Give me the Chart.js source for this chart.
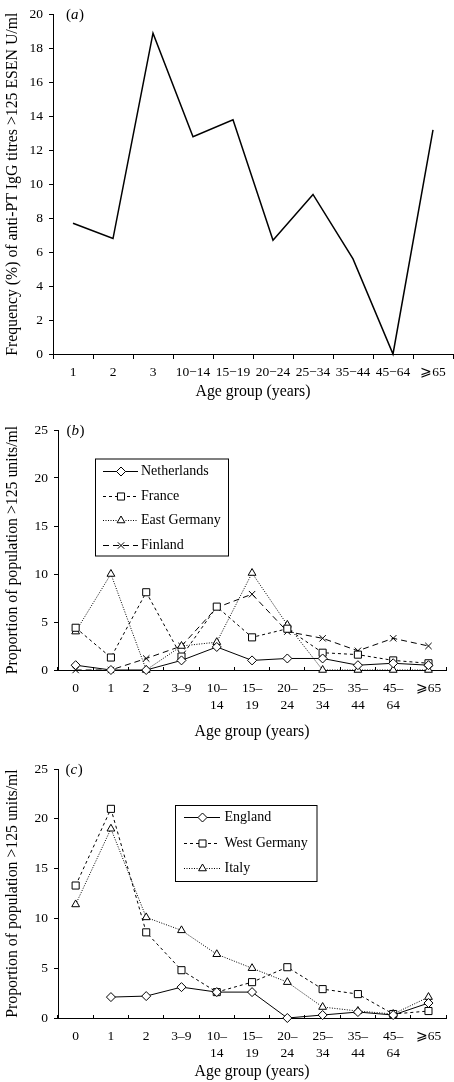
<!DOCTYPE html>
<html>
<head>
<meta charset="utf-8">
<script src="https://cdn.jsdelivr.net/npm/chart.js@4.4.1/dist/chart.umd.min.js"></script>
<style>
  html, body { margin: 0; padding: 0; background: #fff; }
  body { width: 454px; height: 1082px; position: relative; overflow: hidden; }
  canvas { position: absolute; left: 0; }
</style>
</head>
<body>
<canvas id="chartA" width="454" height="405" style="top:0px"></canvas>
<canvas id="chartB" width="454" height="335" style="top:410px"></canvas>
<canvas id="chartC" width="454" height="332" style="top:750px"></canvas>
<script>
// panel (a)
const agesA = ['1', '2', '3', '10\u221214', '15\u221219', '20\u221224', '25\u221234', '35\u221244', '45\u221264', '\u2A7E65'];
const freqA = [7.7, 6.8, 18.9, 12.8, 13.8, 6.7, 9.4, 5.6, 0, 13.2];
const yTicksA = [0, 2, 4, 6, 8, 10, 12, 14, 16, 18, 20];

// panels (b) and (c)
const agesBC = ['0', '1', '2', '3\u20139', ['10\u2013', '14'], ['15\u2013', '19'], ['20\u2013', '24'],
  ['25\u2013', '34'], ['35\u2013', '44'], ['45\u2013', '64'], '\u2A7E65'];
const yTicksBC = [0, 5, 10, 15, 20, 25];

const netherlands = [0.5, 0, 0, 1.0, 2.4, 1.0, 1.2, 1.2, 0.5, 0.7, 0.5];
const france      = [4.4, 1.3, 8.1, 1.4, 6.6, 3.4, 4.3, 1.8, 1.6, 1.0, 0.7];
const eastGermany = [4.0, 10.0, 0, 2.5, 2.9, 10.1, 4.7, 0, 0, 0, 0];
const finland     = [0, 0, 1.2, 2.5, 6.5, 7.9, 4.0, 3.3, 2.0, 3.3, 2.5];

const england     = [null, 2.1, 2.2, 3.1, 2.6, 2.6, 0, 0.3, 0.6, 0.3, 1.5];
const westGermany = [13.3, 21.0, 8.6, 4.8, 2.6, 3.6, 5.1, 2.9, 2.4, 0.4, 0.7];
const italy       = [11.4, 19.0, 10.1, 8.8, 6.4, 5.0, 3.6, 1.1, 0.7, 0.4, 2.1];

const SERIF = '"Liberation Serif", "Times New Roman", serif';
const tickFont = { family: SERIF, size: 13.5, lineHeight: 1.26 };
const titleFont = { family: SERIF, size: 15.8, lineHeight: 1.2 };

// styles per series kind
const solidDiamond = { borderDash: [], pointStyle: 'rectRot', pointRadius: 4.5 };
const shortDashSquare = { borderDash: [3, 3], pointStyle: 'rect', pointRadius: 5 };
const dottedTriangle = { borderDash: [1, 1.5], pointStyle: 'triangle', pointRadius: 4.5 };
const longDashCross = { borderDash: [6, 4], pointStyle: 'crossRot', pointRadius: 4.5 };

function series(label, data, style) {
  return {
    label, data,
    borderColor: '#000', borderWidth: 1, tension: 0,
    pointBackgroundColor: '#fff', pointBorderColor: '#000', pointBorderWidth: 1,
    clip: false, spanGaps: false,
    ...style
  };
}

function makeScales(o) {
  return {
    x: {
      type: 'category', offset: true,
      grid: { offset: true, drawOnChartArea: false, drawTicks: true, tickLength: o.xTick, color: '#000', lineWidth: 1 },
      border: { display: true, color: '#000', width: 1 },
      ticks: { color: '#000', font: tickFont, padding: o.xPad, maxRotation: 0, minRotation: 0, autoSkip: false },
      title: { display: true, text: 'Age group (years)', color: '#000', font: titleFont, padding: { top: 0, bottom: o.titleBottom } },
      afterFit: s => { s.height = o.xHeight; }
    },
    y: {
      min: 0, max: o.yMax,
      afterBuildTicks: s => { s.ticks = o.yTicks.map(v => ({ value: v })); },
      grid: { drawOnChartArea: false, drawTicks: true, tickLength: 4, color: '#000', lineWidth: 1 },
      border: { display: true, color: '#000', width: 1 },
      ticks: { color: '#000', font: tickFont, padding: 6 },
      title: { display: true, text: o.yTitle, color: '#000', font: titleFont, padding: { top: 3, bottom: 0 } },
      afterFit: s => { s.width = o.yWidth; }
    }
  };
}

const panelLabel = {
  id: 'panelLabel',
  afterDraw(chart, args, opts) {
    const { ctx, chartArea } = chart;
    let x = chartArea.left + opts.dx;
    const y = chartArea.top + 1;
    ctx.save();
    ctx.fillStyle = '#000';
    ctx.textBaseline = 'middle';
    ctx.textAlign = 'left';
    ctx.font = '15px ' + SERIF;
    ctx.fillText('(', x, y);
    x += ctx.measureText('(').width;
    ctx.font = 'italic 15px ' + SERIF;
    ctx.fillText(opts.letter, x, y);
    x += ctx.measureText(opts.letter).width + 0.5;
    ctx.font = '15px ' + SERIF;
    ctx.fillText(')', x, y);
    ctx.restore();
  }
};

const boxLegend = {
  id: 'boxLegend',
  afterDraw(chart, args, o) {
    if (!o || !o.box) return;
    const { ctx } = chart;
    ctx.save();
    ctx.fillStyle = '#fff';
    ctx.fillRect(o.box[0], o.box[1], o.box[2], o.box[3]);
    ctx.strokeStyle = '#000';
    ctx.lineWidth = 1;
    ctx.setLineDash([]);
    ctx.strokeRect(o.box[0] + 0.5, o.box[1] + 0.5, o.box[2], o.box[3]);
    chart.data.datasets.forEach((ds, i) => {
      const cy = Math.round(o.row0 + i * o.rowGap) + 0.5;
      ctx.setLineDash(ds.borderDash || []);
      ctx.beginPath();
      ctx.moveTo(o.line[0], cy);
      ctx.lineTo(o.line[1], cy);
      ctx.stroke();
      ctx.setLineDash([]);
      ctx.fillStyle = '#fff';
      ctx.strokeStyle = '#000';
      Chart.helpers.drawPoint(ctx, { pointStyle: ds.pointStyle, radius: ds.pointRadius, borderWidth: 1, rotation: 0 }, o.marker, cy);
      ctx.fillStyle = '#000';
      ctx.font = '14px ' + SERIF;
      ctx.textBaseline = 'middle';
      ctx.textAlign = 'left';
      ctx.fillText(ds.label, o.textX, cy);
    });
    ctx.restore();
  }
};

const common = {
  responsive: false,
  animation: false,
  devicePixelRatio: 1,
  events: []
};

new Chart(document.getElementById('chartA'), {
  type: 'line',
  data: {
    labels: agesA,
    datasets: [{
      label: 'Frequency', data: freqA,
      borderColor: '#000', borderWidth: 1.5, pointRadius: 0, tension: 0, clip: false
    }]
  },
  options: {
    ...common,
    layout: { padding: { top: 10, right: 1, left: 0, bottom: 0 } },
    scales: makeScales({
      xTick: 5, xPad: 4.5, xHeight: 51, titleBottom: 4,
      yMax: 20, yTicks: yTicksA, yWidth: 53,
      yTitle: 'Frequency (%) of anti-PT IgG titres >125 ESEN U/ml'
    }),
    plugins: {
      legend: { display: false }, tooltip: { enabled: false },
      panelLabel: { letter: 'a', dx: 13 }
    }
  },
  plugins: [panelLabel]
});

new Chart(document.getElementById('chartB'), {
  type: 'line',
  data: {
    labels: agesBC,
    datasets: [
      series('Netherlands', netherlands, solidDiamond),
      series('France', france, shortDashSquare),
      series('East Germany', eastGermany, dottedTriangle),
      series('Finland', finland, longDashCross)
    ]
  },
  options: {
    ...common,
    layout: { padding: { top: 20, right: 1, left: 0, bottom: 0 } },
    scales: makeScales({
      xTick: -3, xPad: 12.5, xHeight: 75, titleBottom: 4,
      yMax: 25, yTicks: yTicksBC, yWidth: 58,
      yTitle: 'Proportion of population >125 units/ml'
    }),
    plugins: {
      legend: { display: false }, tooltip: { enabled: false },
      panelLabel: { letter: 'b', dx: 8.5 },
      boxLegend: { box: [95, 48.5, 133, 97], row0: 61.3, rowGap: 24.4, line: [103, 138], marker: 121, textX: 141 }
    }
  },
  plugins: [panelLabel, boxLegend]
});

new Chart(document.getElementById('chartC'), {
  type: 'line',
  data: {
    labels: agesBC,
    datasets: [
      series('England', england, solidDiamond),
      series('West Germany', westGermany, shortDashSquare),
      series('Italy', italy, dottedTriangle)
    ]
  },
  options: {
    ...common,
    layout: { padding: { top: 19, right: 1, left: 0, bottom: 0 } },
    scales: makeScales({
      xTick: -3, xPad: 12.5, xHeight: 64, titleBottom: 1,
      yMax: 25, yTicks: yTicksBC, yWidth: 58,
      yTitle: 'Proportion of population >125 units/ml'
    }),
    plugins: {
      legend: { display: false }, tooltip: { enabled: false },
      panelLabel: { letter: 'c', dx: 7.5 },
      boxLegend: { box: [175, 55, 141.5, 76], row0: 66.7, rowGap: 25.8, line: [184, 220], marker: 202.5, textX: 224.5 }
    }
  },
  plugins: [panelLabel, boxLegend]
});
</script>
</body>
</html>
